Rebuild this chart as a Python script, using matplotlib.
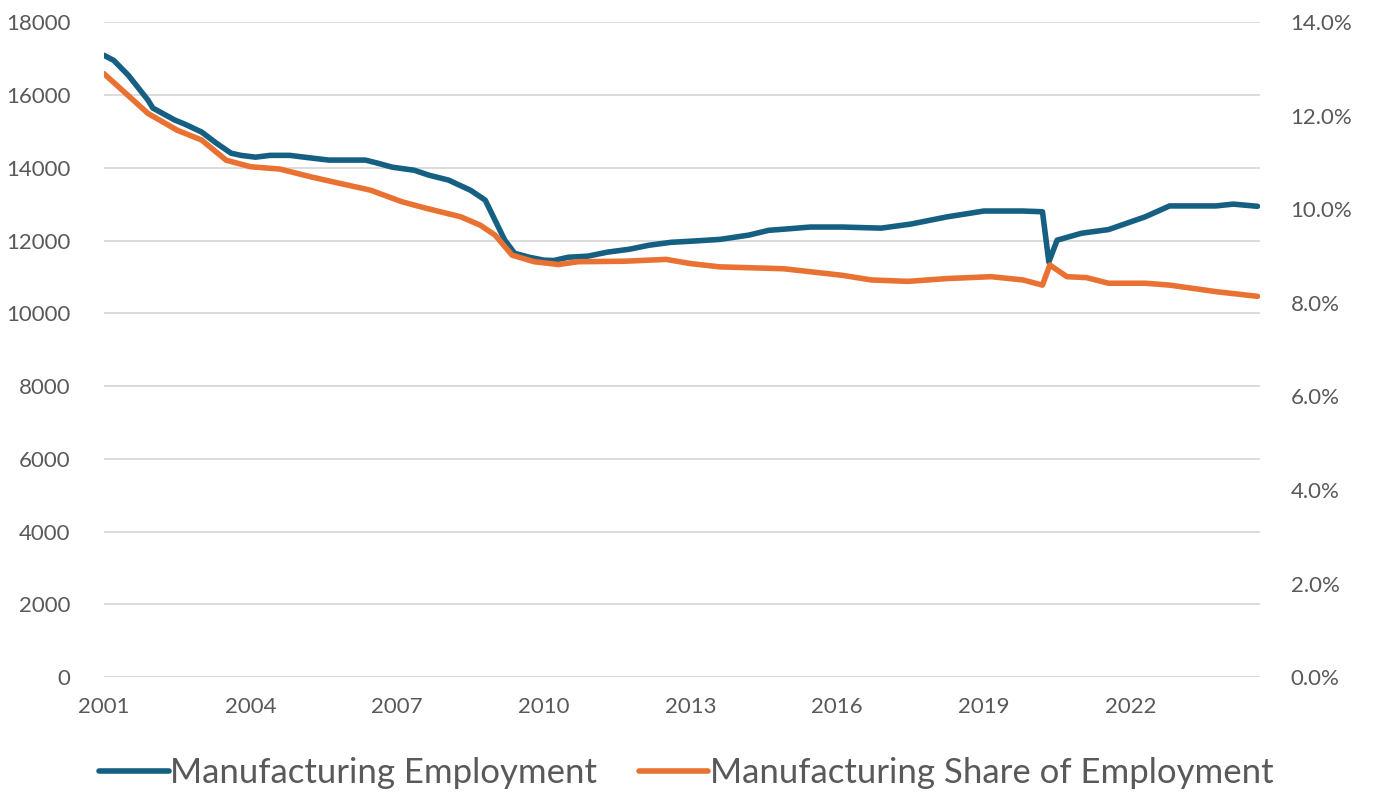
import numpy as np
import matplotlib.pyplot as plt
from matplotlib.ticker import FuncFormatter

# values (year as decimal)
emp_years = [2001.0, 2001.2, 2001.5, 2001.9, 2002.0, 2002.45, 2002.65, 2003.0, 2003.3, 2003.6,
             2003.8, 2004.1, 2004.4, 2004.8, 2005.1, 2005.6, 2006.0, 2006.35, 2006.6, 2006.9,
             2007.35, 2007.65, 2008.05, 2008.5, 2008.8, 2009.0, 2009.2, 2009.4, 2009.7, 2010.0,
             2010.2, 2010.5, 2010.9, 2011.3, 2011.75, 2012.15, 2012.6, 2013.0, 2013.6, 2014.2,
             2014.6, 2014.9, 2015.45, 2016.1, 2016.9, 2017.5, 2018.25, 2019.0, 2019.8, 2020.2,
             2020.33, 2020.5, 2021.0, 2021.55, 2022.3, 2022.8, 2023.75, 2024.1, 2024.6]
employment = [17090, 16950, 16540, 15860, 15640, 15310, 15200, 14980, 14675, 14400,
              14340, 14290, 14340, 14340, 14290, 14210, 14210, 14210, 14125, 14015,
              13930, 13795, 13660, 13380, 13110, 12560, 12010, 11650, 11540, 11460,
              11450, 11540, 11570, 11680, 11760, 11870, 11950, 11980, 12030, 12150,
              12280, 12310, 12370, 12370, 12340, 12450, 12650, 12810, 12810, 12790,
              11410, 12010, 12200, 12300, 12650, 12950, 12950, 13000, 12940]

share_years = [2001.0, 2001.9, 2002.5, 2003.0, 2003.5, 2004.0, 2004.6, 2005.25, 2005.8, 2006.45,
               2007.1, 2007.6, 2008.3, 2008.7, 2009.0, 2009.35, 2009.8, 2010.3, 2010.7, 2011.65,
               2012.5, 2013.0, 2013.6, 2014.9, 2015.5, 2016.1, 2016.7, 2017.45, 2018.25, 2019.15,
               2019.8, 2020.2, 2020.35, 2020.7, 2021.1, 2021.55, 2022.3, 2022.8, 2023.75, 2024.6]
share = [12.90, 12.05, 11.69, 11.48, 11.05, 10.91, 10.86, 10.69, 10.56, 10.41,
         10.16, 10.02, 9.84, 9.66, 9.45, 9.02, 8.88, 8.82, 8.88, 8.89,
         8.93, 8.84, 8.77, 8.73, 8.66, 8.59, 8.49, 8.46, 8.52, 8.56,
         8.49, 8.38, 8.81, 8.56, 8.54, 8.42, 8.42, 8.38, 8.24, 8.14]

xticks = [2001, 2004, 2007, 2010, 2013, 2016, 2019, 2022]

blue = '#156082'
orange = '#E97132'
grey = '#595959'

plt.rcParams['font.family'] = ['Lato', 'DejaVu Sans']

fig = plt.figure(figsize=(13.73, 7.92), dpi=100)
ax = fig.add_axes([0.0757, 0.145, 0.842, 0.827])
ax2 = ax.twinx()

ax.set_ylim(0, 18000)
ax.set_yticks(np.arange(0, 18001, 2000))
ax2.set_ylim(0, 14)
ax2.set_yticks(np.arange(0, 14.1, 2))
ax2.yaxis.set_major_formatter(FuncFormatter(lambda v, p: '%.1f%%' % v))
ax.set_xlim(2001, 2024.65)
ax.set_xticks(xticks)
ax.set_xticklabels([str(t) for t in xticks])

ax.grid(axis='y', color='#D9D9D9', linewidth=1.3)
ax.set_axisbelow(True)
for a in (ax, ax2):
    for s in a.spines.values():
        s.set_visible(False)
    a.tick_params(length=0, labelsize=16, colors=grey)
ax.tick_params(axis='y', pad=24)
ax.tick_params(axis='x', pad=14)
ax2.tick_params(axis='y', pad=22)

l1, = ax.plot(emp_years, employment, color=blue, linewidth=4, solid_capstyle='round',
              label='Manufacturing Employment', zorder=3)
l2, = ax2.plot(share_years, share, color=orange, linewidth=4, solid_capstyle='round',
               label='Manufacturing Share of Employment', zorder=2)

leg = fig.legend(handles=[l1, l2], loc='center', bbox_to_anchor=(0.5, 0.024), ncol=2,
                 frameon=False, fontsize=25, handlelength=2.0, handletextpad=0.05,
                 columnspacing=1.2)
for t in leg.get_texts():
    t.set_color(grey)

fig.savefig('out.png', dpi=100)
